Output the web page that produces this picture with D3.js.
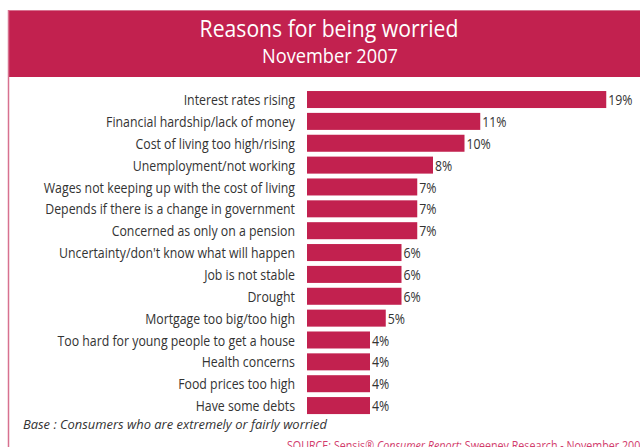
<!DOCTYPE html>
<html>
<head>
<meta charset="utf-8">
<script src="https://cdn.jsdelivr.net/npm/d3@7"></script>
<style>
  html, body { margin: 0; padding: 0; background: #fff; }
  svg { display: block; }
  text { font-family: "Open Sans", "Noto Sans", sans-serif; }
</style>
</head>
<body>
<svg id="chart" width="640" height="447"></svg>
<script>
// Survey data: reasons consumers gave for being worried
const categories = [
  "Interest rates rising",
  "Financial hardship/lack of money",
  "Cost of living too high/rising",
  "Unemployment/not working",
  "Wages not keeping up with the cost of living",
  "Depends if there is a change in government",
  "Concerned as only on a pension",
  "Uncertainty/don't know what will happen",
  "Job is not stable",
  "Drought ",
  "Mortgage too big/too high",
  "Too hard for young people to get a house",
  "Health concerns",
  "Food prices too high",
  "Have some debts"
];
const values = [19, 11, 10, 8, 7, 7, 7, 6, 6, 6, 5, 4, 4, 4, 4];

const titleText = "Reasons for being worried";
const subtitleText = "November 2007";
const baseNote = "Base : Consumers who are extremely or fairly worried";
const sourceParts = [
  { text: "SOURCE: Sensis® ", italic: false },
  { text: "Consumer Report", italic: true },
  { text: ": Sweeney Research - November 2007", italic: false }
];

const BAR = "#c2214f";
const EDGE = "#d7718f";
const INK = "#333333";

const svg = d3.select("#chart");

// Condense text horizontally to mimic a narrow humanist face
function condense(sel, factor) {
  sel.each(function () {
    const w = this.getComputedTextLength();
    d3.select(this)
      .attr("textLength", w * factor)
      .attr("lengthAdjust", "spacingAndGlyphs");
  });
}

// Header band
svg.append("rect")
  .attr("x", 8).attr("y", 10)
  .attr("width", 632).attr("height", 67)
  .attr("fill", BAR);
svg.append("line")
  .attr("x1", 8).attr("x2", 640).attr("y1", 10.5).attr("y2", 10.5)
  .attr("stroke", EDGE).attr("stroke-width", 1);
// Left frame rule
svg.append("line")
  .attr("x1", 8.5).attr("x2", 8.5).attr("y1", 10).attr("y2", 447)
  .attr("stroke", EDGE).attr("stroke-width", 1.5);

svg.append("text")
  .attr("x", 329).attr("y", 37)
  .attr("text-anchor", "middle")
  .attr("fill", "#fff")
  .attr("font-size", 23)
  .attr("font-weight", 500)
  .text(titleText)
  .call(condense, 0.92);

svg.append("text")
  .attr("x", 330).attr("y", 63)
  .attr("text-anchor", "middle")
  .attr("fill", "#fff")
  .attr("font-size", 20)
  .attr("font-weight", 500)
  .text(subtitleText)
  .call(condense, 0.91);

// Scales
const x = d3.scaleLinear().domain([0, 20]).range([307, 622]);
const y = d3.scaleBand()
  .domain(categories)
  .range([88.6, 416.5])
  .paddingInner(0.222)
  .paddingOuter(0.111);

// Bars
svg.append("g")
  .selectAll("rect")
  .data(values)
  .join("rect")
  .attr("x", x(0))
  .attr("y", (d, i) => y(categories[i]))
  .attr("width", d => x(d) - x(0))
  .attr("height", y.bandwidth())
  .attr("fill", BAR);

// Category labels (axis on the left, no line or ticks)
const axis = svg.append("g")
  .attr("transform", `translate(${x(0) - 12},0)`)
  .call(d3.axisLeft(y).tickSize(0).tickPadding(0));
axis.select(".domain").remove();
axis.selectAll("text")
  .attr("font-size", 14)
  .attr("fill", INK)
  .attr("dy", "0.40em")
  .style("font-family", "'Open Sans', 'Noto Sans', sans-serif")
  .call(condense, 0.88);

// Value labels
svg.append("g")
  .selectAll("text")
  .data(values)
  .join("text")
  .attr("x", d => x(d) + 2)
  .attr("y", (d, i) => y(categories[i]) + y.bandwidth() / 2)
  .attr("dy", "0.40em")
  .attr("font-size", 14)
  .attr("fill", INK)
  .text(d => d + "%")
  .call(condense, 0.88);

// Base note
const note = svg.append("text")
  .attr("x", 23).attr("y", 429)
  .attr("font-size", 13)
  .attr("font-style", "italic")
  .attr("fill", INK)
  .text(baseNote);
note.attr("textLength", 304).attr("lengthAdjust", "spacingAndGlyphs");

// Source line, squeezed horizontally as one run of text
const src = svg.append("text")
  .attr("font-size", 12.5)
  .attr("fill", "#d23c6c");
sourceParts.forEach(p => {
  src.append("tspan")
    .attr("font-style", p.italic ? "italic" : "normal")
    .text(p.text);
});
const srcW = src.node().getComputedTextLength();
src.attr("transform", `translate(287,450) scale(${360 / srcW},1)`);
</script>
</body>
</html>
